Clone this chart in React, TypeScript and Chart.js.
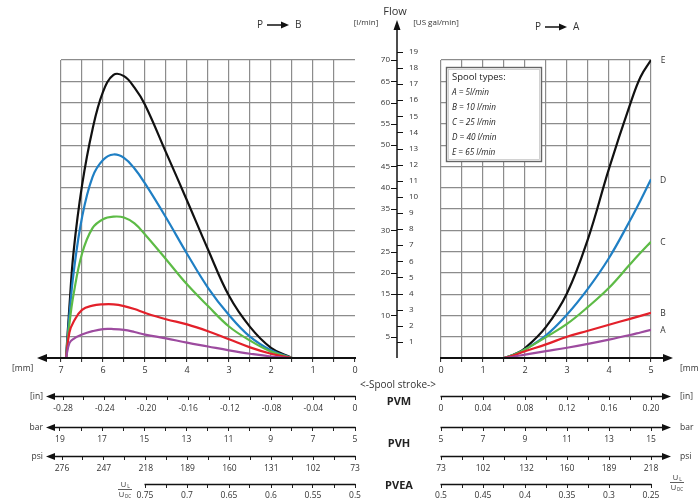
import React, { useEffect, useRef } from 'react';
import { Chart, registerables } from 'chart.js';
Chart.register(...registerables);

const W = 698;
const H = 502;
const FONT = "'Open Sans', 'Noto Sans', 'DejaVu Sans', sans-serif";
const TXT = '#333333';
const GRID = '#8c8c8c';
const INK = '#111111';
const CLEAR = 'rgba(0,0,0,0)';
const L_PER_GAL = 3.78541;

// ---------- data: P -> B (left), stroke in mm ----------
const leftStroke = [6.88, 6.8, 6.7, 6.5, 6.25, 6.0, 5.75, 5.5, 5.25, 5.0, 4.5, 4.0, 3.5, 3.0, 2.5, 2.0, 1.5];
const leftE = [0, 12, 25, 40.5, 53.7, 62.5, 66.5, 66.2, 63.5, 59.5, 48.3, 37, 25.5, 14.6, 7.3, 2.4, 0];
const leftD = [0, 10, 20, 33, 42.5, 46.5, 47.8, 47, 44.5, 41, 33, 24.5, 16.5, 10.1, 5.0, 1.8, 0];
const leftC = [0, 8, 15, 24.5, 30.5, 32.6, 33.2, 33, 31.6, 29, 23.2, 17.3, 12.2, 7.4, 4.1, 1.5, 0];
const leftB = [0, 6, 8.5, 11.3, 12.3, 12.6, 12.6, 12.2, 11.5, 10.6, 9.1, 7.9, 6.3, 4.4, 2.5, 1.0, 0];
const leftA = [0, 3.5, 4.5, 5.5, 6.3, 6.8, 6.8, 6.6, 6.1, 5.5, 4.6, 3.6, 2.7, 1.8, 1.0, 0.35, 0];

// ---------- data: P -> A (right) ----------
const rightStroke = [1.5, 1.75, 2.0, 2.5, 3.0, 3.5, 4.0, 4.5, 4.75, 5.0];
const rightE = [0, 0.9, 2.3, 7.3, 15.2, 28, 44.5, 59.5, 66, 70];
const rightD = [0, 0.8, 2, 5.3, 10.2, 16.3, 23.5, 32.3, 37, 42];
const rightC = [0, 0.8, 2, 4.9, 8, 12, 16.5, 22, 24.7, 27.3];
const rightB = [0, 0.7, 1.6, 3.2, 5, 6.4, 7.8, 9.2, 9.9, 10.6];
const rightA = [0, 0.35, 0.8, 1.6, 2.4, 3.3, 4.3, 5.4, 6.0, 6.6];

const seriesNames = ['A', 'B', 'C', 'D', 'E'];
const seriesColors = ['#9d4b9f', '#e3202a', '#5dbb46', '#1f7fc4', '#111111'];
const spoolTitle = 'Spool types:';
const spoolTypes = ['A = 5l/min', 'B = 10 l/min', 'C = 25 l/min', 'D = 40 l/min', 'E = 65 l/min'];

// ---------- tick labels ----------
const flowTicks = [5, 10, 15, 20, 25, 30, 35, 40, 45, 50, 55, 60, 65, 70];
const galTicks = [1, 2, 3, 4, 5, 6, 7, 8, 9, 10, 11, 12, 13, 14, 15, 16, 17, 18, 19];
const leftMmTicks = [7, 6, 5, 4, 3, 2, 1, 0];
const leftInTicks = [-0.28, -0.24, -0.2, -0.16, -0.12, -0.08, -0.04, 0];
const leftBarTicks = [19, 17, 15, 13, 11, 9, 7, 5];
const leftPsiTicks = [276, 247, 218, 189, 160, 131, 102, 73];
const leftURatioTicks = [0.75, 0.7, 0.65, 0.6, 0.55, 0.5];
const rightMmTicks = [0, 1, 2, 3, 4, 5];
const rightInTicks = [0, 0.04, 0.08, 0.12, 0.16, 0.2];
const rightBarTicks = [5, 7, 9, 11, 13, 15];
const rightPsiTicks = [73, 102, 132, 160, 189, 218];
const rightURatioTicks = [0.5, 0.45, 0.4, 0.35, 0.3, 0.25];

function withMinors(majors: number[]): number[] {
  const out: number[] = [];
  for (let i = 0; i < majors.length; i++) {
    out.push(majors[i]);
    if (i < majors.length - 1) out.push((majors[i] + majors[i + 1]) / 2);
  }
  return out;
}
const isMajor = (majors: number[], v: number) => majors.some((m) => Math.abs(m - v) < 1e-9);
const fmtIn = (v: number) => (Math.abs(v) < 1e-9 ? '0' : v.toFixed(2));
const fmtPlain = (v: number) => String(v);

const tickFont = { family: FONT, size: 8.5 };

function subAxis(weight: number, min: number, max: number, reverse: boolean, majors: number[], fmt: (v: number) => string, height: number, pad: number) {
  const vals = withMinors(majors);
  return {
    type: 'linear',
    axis: 'x',
    position: 'bottom',
    weight,
    min,
    max,
    reverse,
    bounds: 'data',
    afterBuildTicks: (s: any) => {
      s.ticks = vals.map((v) => ({ value: v }));
    },
    afterFit: (s: any) => {
      s.height = height;
    },
    border: { display: false },
    grid: { display: true, drawOnChartArea: false, drawTicks: true, tickLength: 4, tickColor: '#222', tickWidth: 1 },
    ticks: {
      autoSkip: false,
      maxRotation: 0,
      minRotation: 0,
      padding: pad,
      color: TXT,
      font: tickFont,
      callback: (v: number) => (isMajor(majors, v) ? fmt(v) : ''),
    },
  };
}

function mmAxis(min: number, max: number, reverse: boolean, majors: number[], hideZero: boolean) {
  const vals = withMinors(majors);
  return {
    type: 'linear',
    position: 'bottom',
    weight: 0,
    min,
    max,
    reverse,
    bounds: 'data',
    afterBuildTicks: (s: any) => {
      s.ticks = vals.map((v) => ({ value: v }));
    },
    afterFit: (s: any) => {
      s.height = 38;
    },
    border: { display: false },
    grid: {
      color: (c: any) => (hideZero && c.tick && Math.abs(c.tick.value) < 1e-9 ? CLEAR : GRID),
      lineWidth: 1.2,
      drawTicks: true,
      tickLength: 4,
      tickColor: '#222',
      tickWidth: 1,
    },
    ticks: {
      autoSkip: false,
      maxRotation: 0,
      minRotation: 0,
      padding: 3,
      color: TXT,
      font: { family: FONT, size: 9 },
      callback: (v: number) => (isMajor(majors, v) ? String(v) : ''),
    },
  };
}

function flowGrid(position: string, width: number, showLabels: boolean) {
  return {
    type: 'linear',
    position,
    min: 0,
    max: 70,
    bounds: 'data',
    afterBuildTicks: (s: any) => {
      s.ticks = [0, ...flowTicks].map((v) => ({ value: v }));
    },
    afterFit: (s: any) => {
      s.width = width;
    },
    border: { display: false },
    grid: { color: (c: any) => (c.tick && c.tick.value === 0 ? CLEAR : GRID), lineWidth: 1.2, drawTicks: false },
    ticks: {
      display: showLabels,
      autoSkip: false,
      crossAlign: 'far',
      color: TXT,
      font: { family: FONT, size: 8 },
      callback: (v: number) => (v === 0 ? '' : String(v)),
    },
  };
}

function makeDatasets(xs: number[], series: number[][]) {
  return series.map((ys, i) => ({
    label: seriesNames[i],
    data: xs.map((x, j) => ({ x, y: ys[j] })),
    borderColor: seriesColors[i],
    backgroundColor: seriesColors[i],
    borderWidth: 2.2,
    pointRadius: 0,
    tension: 0.4,
    fill: false,
  }));
}

// ---------- drawing helpers ----------
function line(ctx: CanvasRenderingContext2D, x1: number, y1: number, x2: number, y2: number, w: number) {
  ctx.lineWidth = w;
  ctx.beginPath();
  ctx.moveTo(x1, y1);
  ctx.lineTo(x2, y2);
  ctx.stroke();
}
function arrowHead(ctx: CanvasRenderingContext2D, tx: number, ty: number, dx: number, dy: number, len: number, half: number) {
  ctx.beginPath();
  ctx.moveTo(tx, ty);
  ctx.lineTo(tx - dx * len - dy * half, ty - dy * len + dx * half);
  ctx.lineTo(tx - dx * len + dy * half, ty - dy * len - dx * half);
  ctx.closePath();
  ctx.fill();
}
function txt(ctx: CanvasRenderingContext2D, s: string, x: number, y: number, size: number, align: CanvasTextAlign = 'left', style = '', color = TXT) {
  ctx.font = `${style ? style + ' ' : ''}${size}px ${FONT}`;
  ctx.textAlign = align;
  ctx.textBaseline = 'middle';
  ctx.fillStyle = color;
  ctx.fillText(s, x, y);
}
function uFrac(ctx: CanvasRenderingContext2D, cx: number, cy: number) {
  txt(ctx, 'U', cx - 1.5, cy - 4.5, 7.5, 'center');
  txt(ctx, 'L', cx + 3.5, cy - 2.5, 5, 'center');
  ctx.strokeStyle = TXT;
  line(ctx, cx - 7, cy + 0.5, cx + 7, cy + 0.5, 0.8);
  txt(ctx, 'U', cx - 3.5, cy + 5.5, 7.5, 'center');
  txt(ctx, 'DC', cx + 3, cy + 7.5, 4.5, 'center');
}
function direction(ctx: CanvasRenderingContext2D, x: number, y: number, to: string) {
  txt(ctx, 'P', x, y, 10, 'left');
  ctx.strokeStyle = INK;
  ctx.fillStyle = INK;
  line(ctx, x + 10, y, x + 26, y, 1.5);
  arrowHead(ctx, x + 32, y, 1, 0, 8, 3.5);
  txt(ctx, to, x + 38, y, 10, 'left');
}

const CX = 397; // central flow axis

const leftDecor = {
  id: 'leftDecor',
  afterDraw(chart: any) {
    const ctx: CanvasRenderingContext2D = chart.ctx;
    const s = chart.scales;
    ctx.save();
    ctx.strokeStyle = INK;
    ctx.fillStyle = INK;
    const yBase = s.y.getPixelForValue(0);
    line(ctx, 46, yBase, s.x.right + 1, yBase, 2);
    arrowHead(ctx, 37, yBase, -1, 0, 10, 4);
    for (const id of ['xIn', 'xBar', 'xPsi']) {
      const yy = s[id].top + 0.5;
      ctx.strokeStyle = INK;
      ctx.fillStyle = INK;
      line(ctx, 54, yy, s[id].right + 0.5, yy, 1.5);
      arrowHead(ctx, 46, yy, -1, 0, 9, 3.5);
    }
    const u = s.xU;
    line(ctx, u.getPixelForValue(leftURatioTicks[0]) - 0.5, u.top + 0.5, u.right + 0.5, u.top + 0.5, 1.3);

    // central flow axis
    ctx.strokeStyle = INK;
    ctx.fillStyle = INK;
    line(ctx, CX, yBase, CX, 29, 1.5);
    arrowHead(ctx, CX, 20, 0, -1, 10, 3.5);
    for (const v of flowTicks) {
      const py = Math.round(s.y.getPixelForValue(v)) + 0.5;
      line(ctx, 391, py, CX, py, 1);
    }

    // texts
    txt(ctx, '[mm]', 12, 369, 8.5, 'left');
    txt(ctx, '[in]', 43, s.xIn.top + 0.5, 8.5, 'right');
    txt(ctx, 'bar', 43, s.xBar.top + 0.5, 8.5, 'right');
    txt(ctx, 'psi', 43, s.xPsi.top + 0.5, 8.5, 'right');
    uFrac(ctx, 125, 489);
    txt(ctx, 'Flow', 395, 12, 11, 'center');
    txt(ctx, '[l/min]', 366, 23, 8, 'center');
    txt(ctx, '[US gal/min]', 436, 23, 8, 'center');
    direction(ctx, 257, 25, 'B');
    txt(ctx, '<-Spool stroke->', 398, 385, 10, 'center');
    txt(ctx, 'PVM', 399, 402, 11, 'center', 'bold', '#222');
    txt(ctx, 'PVH', 399, 444, 11, 'center', 'bold', '#222');
    txt(ctx, 'PVEA', 399, 486, 11, 'center', 'bold', '#222');
    ctx.restore();
  },
};

const rightDecor = {
  id: 'rightDecor',
  afterDraw(chart: any) {
    const ctx: CanvasRenderingContext2D = chart.ctx;
    const s = chart.scales;
    ctx.save();
    ctx.strokeStyle = INK;
    ctx.fillStyle = INK;
    const yBase = s.y.getPixelForValue(0);
    line(ctx, s.x.left - 1, yBase, 664, yBase, 2);
    arrowHead(ctx, 673, yBase, 1, 0, 10, 4);
    for (const id of ['xIn', 'xBar', 'xPsi']) {
      const yy = s[id].top + 0.5;
      ctx.strokeStyle = INK;
      ctx.fillStyle = INK;
      line(ctx, s[id].left - 0.5, yy, 663, yy, 1.5);
      arrowHead(ctx, 671, yy, 1, 0, 9, 3.5);
    }
    const u = s.xU;
    line(ctx, u.left - 0.5, u.top + 0.5, u.right + 0.5, u.top + 0.5, 1.3);

    // gallon ticks on central axis
    for (const g of galTicks) {
      const py = Math.round(s.yG.getPixelForValue(g)) + 0.5;
      line(ctx, CX, py, 403, py, 1);
    }

    txt(ctx, '[mm]', 680, 369, 8.5, 'left');
    txt(ctx, '[in]', 680, s.xIn.top + 0.5, 8.5, 'left');
    txt(ctx, 'bar', 680, s.xBar.top + 0.5, 8.5, 'left');
    txt(ctx, 'psi', 680, s.xPsi.top + 0.5, 8.5, 'left');
    uFrac(ctx, 677, 482);

    // series end labels
    const ends = [rightA, rightB, rightC, rightD, rightE];
    ends.forEach((arr, i) => {
      txt(ctx, seriesNames[i], 663, s.y.getPixelForValue(arr[arr.length - 1]) + 1, 8.5, 'center');
    });

    direction(ctx, 535, 27, 'A');

    // legend box
    ctx.fillStyle = '#ffffff';
    ctx.fillRect(446, 67, 96, 95);
    ctx.strokeStyle = '#666';
    ctx.lineWidth = 1.4;
    ctx.strokeRect(446.5, 67.5, 95, 94);
    ctx.strokeStyle = '#c8c8c8';
    ctx.lineWidth = 0.8;
    ctx.strokeRect(448.5, 69.5, 91, 90);
    txt(ctx, spoolTitle, 452, 77, 9.5, 'left', '', '#222');
    spoolTypes.forEach((t, i) => {
      txt(ctx, t, 452, 93 + i * 14.8, 8.2, 'left', 'italic', '#222');
    });
    ctx.restore();
  },
};

function leftConfig(): any {
  const datasets = makeDatasets(leftStroke, [leftA, leftB, leftC, leftD, leftE]);
  return {
    type: 'line',
    data: { datasets },
    options: {
      animation: false,
      responsive: false,
      devicePixelRatio: 1,
      events: [],
      layout: { padding: { left: 61, top: 60, right: 308, bottom: 0 } },
      plugins: { legend: { display: false }, tooltip: { enabled: false }, title: { display: false } },
      scales: {
        x: mmAxis(0, 7, true, leftMmTicks, true),
        xIn: subAxis(1, -0.282, 0, false, leftInTicks, fmtIn, 31, 3),
        xBar: subAxis(2, 5, 18.95, true, leftBarTicks, fmtPlain, 29, 3),
        xPsi: subAxis(3, 73, 276.7, true, leftPsiTicks, fmtPlain, 28, 3),
        xU: subAxis(4, 0.5, 0.85, true, leftURatioTicks, fmtPlain, 18, 2),
        y: flowGrid('right', 35, true),
      },
    },
    plugins: [leftDecor],
  };
}

function rightConfig(): any {
  const datasets = makeDatasets(rightStroke, [rightA, rightB, rightC, rightD, rightE]);
  return {
    type: 'line',
    data: { datasets },
    options: {
      animation: false,
      responsive: false,
      devicePixelRatio: 1,
      events: [],
      layout: { padding: { left: 409, top: 60, right: 47, bottom: 0 } },
      plugins: { legend: { display: false }, tooltip: { enabled: false }, title: { display: false } },
      scales: {
        x: mmAxis(0, 5, false, rightMmTicks, false),
        xIn: subAxis(1, 0, 0.2, false, rightInTicks, fmtIn, 31, 3),
        xBar: subAxis(2, 5, 15, false, rightBarTicks, fmtPlain, 29, 3),
        xPsi: subAxis(3, 73, 218, false, rightPsiTicks, fmtPlain, 28, 3),
        xU: subAxis(4, 0.25, 0.5, true, rightURatioTicks, fmtPlain, 18, 2),
        y: flowGrid('left', 0, false),
        yG: {
          type: 'linear',
          position: 'left',
          min: 0,
          max: 70 / L_PER_GAL,
          bounds: 'data',
          afterBuildTicks: (sc: any) => {
            sc.ticks = galTicks.map((v) => ({ value: v }));
          },
          afterFit: (sc: any) => {
            sc.width = 32;
          },
          border: { display: false },
          grid: { display: false },
          ticks: { autoSkip: false, crossAlign: 'far', color: TXT, font: { family: FONT, size: 8 } },
        },
      },
    },
    plugins: [rightDecor],
  };
}

export default function App() {
  const leftRef = useRef<HTMLCanvasElement>(null);
  const rightRef = useRef<HTMLCanvasElement>(null);
  useEffect(() => {
    const lc = new Chart(leftRef.current as HTMLCanvasElement, leftConfig());
    const rc = new Chart(rightRef.current as HTMLCanvasElement, rightConfig());
    return () => {
      lc.destroy();
      rc.destroy();
    };
  }, []);
  const cs: React.CSSProperties = { position: 'absolute', left: 0, top: 0, width: W, height: H };
  return (
    <div style={{ position: 'fixed', left: 0, top: 0, width: W, height: H, background: '#ffffff', overflow: 'hidden' }}>
      <canvas ref={leftRef} width={W} height={H} style={cs} />
      <canvas ref={rightRef} width={W} height={H} style={cs} />
    </div>
  );
}
